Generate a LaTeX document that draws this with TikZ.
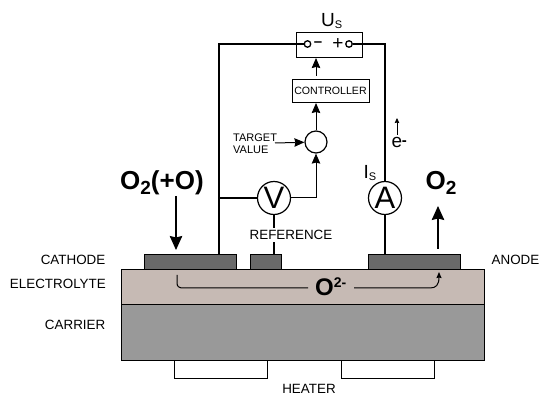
\documentclass[tikz,border=0pt]{standalone}
\usepackage{fontspec}
\setmainfont{Liberation Sans}
\usepackage{tikz}
\usetikzlibrary{arrows.meta}
\definecolor{electrolyte}{HTML}{C6BAB4}
\definecolor{carrier}{HTML}{999999}
\definecolor{electrode}{HTML}{696969}
\newcommand{\fs}[1]{\fontsize{#1}{#1}\selectfont}
\tikzset{
	label/.style = {inner sep=0pt, font=\fs{13.4}},
	small/.style = {inner sep=0pt, font=\fs{11}},
	big/.style = {inner sep=0pt, font=\fs{26}\bfseries},
	layer/.style = {draw, line width=1.2pt, minimum height=#1, anchor=north west, inner sep=0pt},
	meter/.style = {draw, circle, line width=1.2pt, minimum size=33pt, inner sep=0pt, font=\fs{31}, fill=white},
	terminal/.style = {draw, circle, line width=1.3pt, minimum size=6.5pt, inner sep=0pt, fill=white},
	wire/.style = {line width=1.2pt},
	arrow/.style = {line width=1pt, -{Stealth[length=10pt,width=8.5pt,inset=1pt]}},
	bigarrow/.style = {line width=1.1pt, -{Stealth[length=14pt,width=12.5pt,inset=1.5pt]}}
}
\begin{document}
\begin{tikzpicture}[x=1pt,y=-1pt]
\useasboundingbox (0,0) rectangle (539,395);

% layers
\node [layer=35pt,minimum width=363.5pt,fill=electrolyte] (electrolyte) at (120.5,269) {};
\node [layer=56pt,minimum width=363.5pt,fill=carrier] (carrier) at (120.5,304) {};
\node [layer=18pt,minimum width=93pt,fill=white] (heaterA) at (174,360) {};
\node [layer=18pt,minimum width=93pt,fill=white] (heaterB) at (341,360) {};
\node [layer=15pt,minimum width=92pt,fill=electrode] (cathode) at (144,254) {};
\node [layer=15pt,minimum width=31pt,fill=electrode] (refpad) at (250,254) {};
\node [layer=15pt,minimum width=92pt,fill=electrode] (anode) at (368,254) {};

% control part
\node [draw,line width=.8pt,minimum width=66pt,minimum height=25pt,inner sep=0pt] (source) at (329,44.5) {};
\node [draw,line width=.8pt,minimum width=77pt,minimum height=23pt,inner sep=0pt,font=\fs{10.6}] (controller) at (330.5,90.5) {CONTROLLER};
\node [draw,circle,line width=1.2pt,minimum size=22pt,inner sep=0pt] (sum) at (316,142) {};
\node [meter] (V) at (274,198) {V};
\node [meter] (A) at (385,198) {A};
\node [terminal] (minus) at (307.5,44) {};
\node [terminal] (plus) at (349,44) {};
\node [inner sep=0pt,font=\fs{15}\bfseries] (minusText) at (318,44) {–};
\node [inner sep=0pt,font=\fs{19}] (plusText) at (338,44.5) {+};

% wires
\coordinate (cathodeTop) at (219,254);
\coordinate (refTop) at (274,254);
\coordinate (anodeTop) at (385,254);
\coordinate (leftJoin) at (219,198);
\coordinate (controllerIn) at (316,103);
\draw [wire] (cathodeTop) -- (219,44) -- (minus);
\draw [wire] (plus) -- (385,44) -- (A);
\draw [wire] (A) -- (anodeTop);
\draw [wire] (leftJoin) -- (V);
\draw [wire] (V) -- (refTop);
\draw [arrow] (V) -- (316,198) -- (sum);
\draw [arrow] (sum) -- (controllerIn);
\draw [arrow] (316,76) -- (316,58);

% texts
\node [label,anchor=east] (cathodeText) at (105.5,260) {CATHODE};
\node [label,anchor=east] (electrolyteText) at (106,284) {ELECTROLYTE};
\node [label,anchor=east] (carrierText) at (105.5,325) {CARRIER};
\node [label,anchor=west] (anodeText) at (491.5,260) {ANODE};
\node [label] (heaterText) at (309,388.5) {HEATER};
\node [label,fill=white,inner ysep=2pt] (refText) at (291,235) {REFERENCE};
\node [small,align=left,anchor=west] (targetText) at (233,143.5) {TARGET\\[1.5pt]VALUE};
\coordinate (targetEnd) at (275,143);
\draw [arrow] (targetEnd) -- (sum);
\node [inner sep=0pt,font=\fs{19},anchor=base west] (usText) at (321,27) {U\raisebox{-2pt}{\fs{11}S}};
\node [inner sep=0pt,font=\fs{19},anchor=base west] (isText) at (363.5,179) {I\raisebox{-2pt}{\fs{11}S}};
\node [inner sep=0pt,font=\fs{19},anchor=base west] (eText) at (391.5,148) {e\kern-.5pt\raisebox{2.5pt}{\fs{15}\bfseries-}};
\coordinate (eStart) at (397,135);
\coordinate (eEnd) at (397,118);
\draw [line width=.7pt,-{Stealth[length=5pt,width=4.5pt,inset=.5pt]}] (eStart) -- (eEnd);
\node [big,anchor=base west] (inText) at (120,190) {O\raisebox{-5pt}{\fs{19}2}(+O)};
\node [big,anchor=base west] (outText) at (425.5,190) {O\raisebox{-5pt}{\fs{19}2}};
\coordinate (inStart) at (176,196);
\coordinate (outStart) at (438,249);
\draw [bigarrow] (inStart) -- (176,250);
\draw [bigarrow] (outStart) -- (438,206);

% ion path
\node [inner sep=0pt,font=\fs{24}\bfseries,anchor=base west] (ionText) at (315,295.5) {O\raisebox{8pt}{\fs{14}2-}};
\draw [line width=1pt] (177,275) -- (177,283) .. controls (177,286.5) and (179,288) .. (183,288) -- (308,288);
\draw [line width=1pt,-{Stealth[length=6pt,width=5pt,inset=.5pt]}] (354,288) -- (430,288) .. controls (436,288) and (439,285) .. (439,272);
\end{tikzpicture}
\end{document}
